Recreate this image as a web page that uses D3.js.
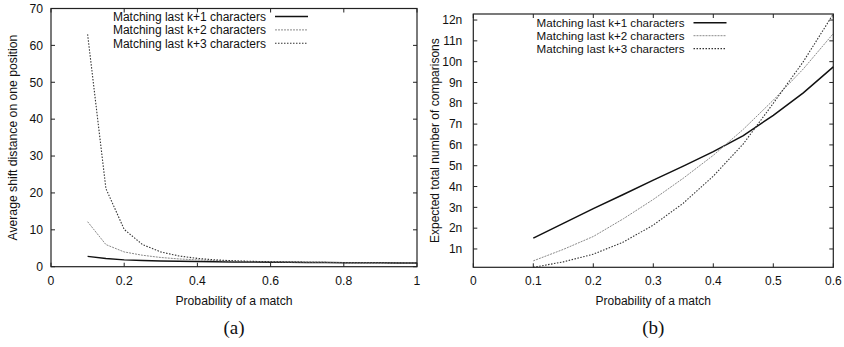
<!DOCTYPE html>
<html>
<head>
<meta charset="utf-8">
<script src="https://cdn.jsdelivr.net/npm/d3@7"></script>
<style>
  body { margin: 0; background: #fff; }
  svg { display: block; }
  text { font-family: "Liberation Sans", Arial, sans-serif; fill: #111; }
</style>
</head>
<body>
<svg id="chart" width="844" height="347"></svg>
<script>
// ---------- data ----------
const seriesNames = ["Matching last k+1 characters", "Matching last k+2 characters", "Matching last k+3 characters"];

// Plot (a): average shift distance
const probA = [0.1,0.15,0.2,0.25,0.3,0.35,0.4,0.45,0.5,0.55,0.6,0.65,0.7,0.75,0.8,0.85,0.9,0.95,1.0];
const shiftK1 = [2.8,2.2,1.85,1.65,1.55,1.47,1.4,1.35,1.3,1.26,1.22,1.19,1.16,1.13,1.1,1.08,1.05,1.03,1.0];
const shiftK2 = [12.2,6.0,4.0,3.1,2.5,2.1,1.85,1.65,1.5,1.4,1.32,1.26,1.21,1.17,1.13,1.1,1.06,1.03,1.0];
const shiftK3 = [63,21.2,10.1,6.0,4.0,2.9,2.25,1.85,1.6,1.45,1.35,1.27,1.21,1.16,1.12,1.09,1.06,1.03,1.0];
const xTicksA = [0,0.2,0.4,0.6,0.8,1];
const yTicksA = [0,10,20,30,40,50,60,70];

// Plot (b): expected total number of comparisons (in units of n)
const probB = [0.1,0.15,0.2,0.25,0.3,0.35,0.4,0.45,0.5,0.55,0.6];
const compK1 = [1.52,2.23,2.94,3.62,4.31,4.98,5.68,6.45,7.42,8.5,9.75];
const compK2 = [0.43,0.98,1.6,2.45,3.38,4.4,5.5,6.75,8.15,9.65,11.35];
const compK3 = [0.12,0.38,0.75,1.33,2.15,3.2,4.5,6.05,8.0,10.0,12.29];
const xTicksB = [0,0.1,0.2,0.3,0.4,0.5,0.6];
const yTicksB = [1,2,3,4,5,6,7,8,9,10,11,12];

// ---------- styles ----------
const lineStyles = [
  { stroke: "#111", width: 1.5, dash: null },
  { stroke: "#8a8a8a", width: 1.0, dash: "2,1" },
  { stroke: "#333", width: 1.1, dash: "1.5,1.5" }
];

const svg = d3.select("#chart");

function drawPanel(cfg) {
  const g = svg.append("g");
  const x = d3.scaleLinear().domain(cfg.xDomain).range([cfg.left, cfg.right]);
  const y = d3.scaleLinear().domain(cfg.yDomain).range([cfg.bottom, cfg.top]);
  const tl = 4;

  // series
  cfg.series.forEach((vals, i) => {
    const st = lineStyles[i];
    const line = d3.line().x((d, j) => x(cfg.xs[j])).y(d => y(d));
    g.append("path").datum(vals)
      .attr("d", line)
      .attr("fill", "none")
      .attr("stroke", st.stroke)
      .attr("stroke-width", st.width)
      .attr("stroke-dasharray", st.dash);
  });

  // frame
  g.append("rect")
    .attr("x", cfg.left).attr("y", cfg.top)
    .attr("width", cfg.right - cfg.left).attr("height", cfg.bottom - cfg.top)
    .attr("fill", "none").attr("stroke", "#222").attr("stroke-width", 1.2);

  // x ticks (inward, mirrored)
  cfg.xTicks.forEach(t => {
    const px = x(t);
    g.append("line").attr("x1", px).attr("x2", px).attr("y1", cfg.bottom).attr("y2", cfg.bottom - tl).attr("stroke", "#222");
    g.append("line").attr("x1", px).attr("x2", px).attr("y1", cfg.top).attr("y2", cfg.top + tl).attr("stroke", "#222");
    g.append("text").attr("x", px).attr("y", cfg.bottom + 18)
      .attr("text-anchor", "middle").style("font-size", cfg.fs + "px").text(cfg.xFmt(t));
  });
  // y ticks
  cfg.yTicks.forEach(t => {
    const py = y(t);
    g.append("line").attr("x1", cfg.left).attr("x2", cfg.left + tl).attr("y1", py).attr("y2", py).attr("stroke", "#222");
    g.append("line").attr("x1", cfg.right).attr("x2", cfg.right - tl).attr("y1", py).attr("y2", py).attr("stroke", "#222");
    g.append("text").attr("x", cfg.left - cfg.yLabelGap).attr("y", py).attr("dy", "0.35em")
      .attr("text-anchor", "end").style("font-size", cfg.fs + "px").text(cfg.yFmt(t));
  });

  // axis titles
  g.append("text").attr("x", (cfg.left + cfg.right) / 2).attr("y", cfg.bottom + 38)
    .attr("text-anchor", "middle").style("font-size", cfg.fs + "px").text(cfg.xTitle);
  g.append("text")
    .attr("transform", `translate(${cfg.yTitleX},${(cfg.top + cfg.bottom) / 2}) rotate(-90)`)
    .attr("text-anchor", "middle").attr("dy", "0.35em").style("font-size", cfg.fs + "px").text(cfg.yTitle);

  // legend
  seriesNames.forEach((name, i) => {
    const ly = cfg.legendY + i * cfg.legendStep;
    g.append("text").attr("x", cfg.legendTextX).attr("y", ly).attr("dy", "0.35em")
      .attr("text-anchor", "end").style("font-size", cfg.legendFs + "px").text(name);
    const st = lineStyles[i];
    g.append("line").attr("x1", cfg.legendTextX + 9).attr("x2", cfg.legendTextX + 42)
      .attr("y1", ly).attr("y2", ly)
      .attr("stroke", st.stroke).attr("stroke-width", st.width).attr("stroke-dasharray", st.dash);
  });

  // caption
  svg.append("text").attr("x", (cfg.left + cfg.right) / 2).attr("y", 327).attr("dy", "0.35em")
    .attr("text-anchor", "middle")
    .style("font-family", "'Liberation Serif', 'DejaVu Serif', serif").style("font-size", "19px")
    .text(cfg.caption);
}

drawPanel({
  left: 51, right: 417, top: 8.5, bottom: 266.7,
  xDomain: [0, 1], yDomain: [0, 70],
  xs: probA, series: [shiftK1, shiftK2, shiftK3],
  xTicks: xTicksA, yTicks: yTicksA,
  xFmt: d => String(d), yFmt: d => String(d),
  xTitle: "Probability of a match", yTitle: "Average shift distance on one position",
  yTitleX: 13, fs: 12.2, legendFs: 12.0, yLabelGap: 8,
  legendTextX: 266, legendY: 16.5, legendStep: 13.4,
  caption: "(a)"
});

drawPanel({
  left: 473.3, right: 833.3, top: 14, bottom: 267.3,
  xDomain: [0, 0.6], yDomain: [0.12, 12.29],
  xs: probB, series: [compK1, compK2, compK3],
  xTicks: xTicksB, yTicks: yTicksB,
  xFmt: d => String(d), yFmt: d => d + "n",
  xTitle: "Probability of a match", yTitle: "Expected total number of comparisons",
  yTitleX: 435, fs: 12, legendFs: 11.6, yLabelGap: 11,
  legendTextX: 684.5, legendY: 22.8, legendStep: 12.9,
  caption: "(b)"
});
</script>
</body>
</html>
